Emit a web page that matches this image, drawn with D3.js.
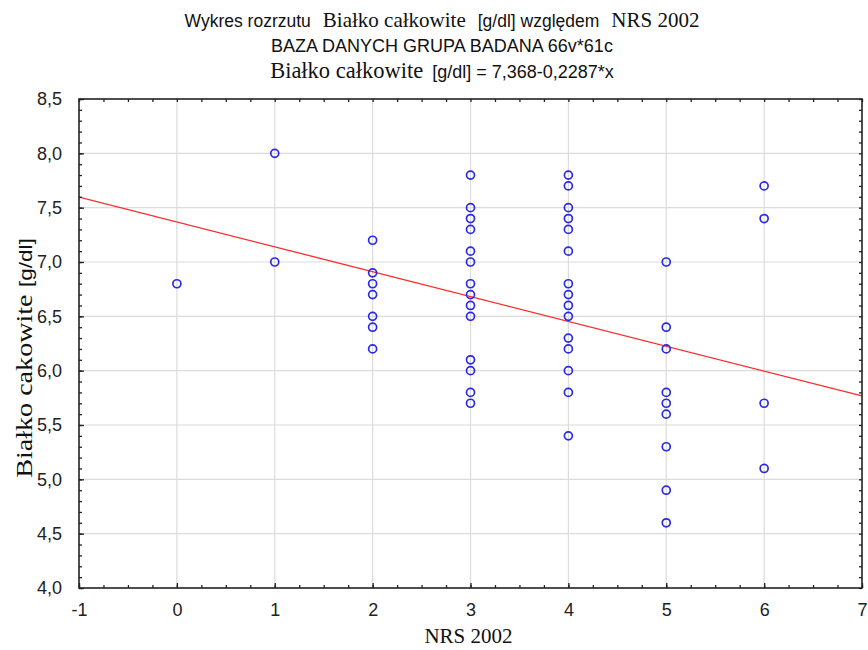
<!DOCTYPE html>
<html>
<head>
<meta charset="utf-8">
<script src="https://cdn.jsdelivr.net/npm/d3@7"></script>
<style>
  html, body { margin: 0; padding: 0; background: #fff; }
  svg { display: block; }
</style>
</head>
<body>
<script>
// NRS 2002 score vs total protein (g/dl), one entry per observation
const nrsScores = [
  0,
  1, 1,
  2, 2, 2, 2, 2, 2, 2,
  3, 3, 3, 3, 3, 3, 3, 3, 3, 3, 3, 3, 3, 3,
  4, 4, 4, 4, 4, 4, 4, 4, 4, 4, 4, 4, 4, 4, 4,
  5, 5, 5, 5, 5, 5, 5, 5, 5,
  6, 6, 6, 6
];
const proteinValues = [
  6.8,
  8.0, 7.0,
  7.2, 6.9, 6.8, 6.7, 6.5, 6.4, 6.2,
  7.8, 7.5, 7.4, 7.3, 7.1, 7.0, 6.8, 6.7, 6.6, 6.5, 6.1, 6.0, 5.8, 5.7,
  7.8, 7.7, 7.5, 7.4, 7.3, 7.1, 6.8, 6.7, 6.6, 6.5, 6.3, 6.2, 6.0, 5.8, 5.4,
  7.0, 6.4, 6.2, 5.8, 5.7, 5.6, 5.3, 4.9, 4.6,
  7.7, 7.4, 5.7, 5.1
];

// Fitted regression: protein = a + b * NRS
const fitIntercept = 7.368;
const fitSlope = -0.2287;

const xDomain = [-1, 7];
const yDomain = [4.0, 8.5];
const xTickValues = [-1, 0, 1, 2, 3, 4, 5, 6, 7];
const yTickValues = [4.0, 4.5, 5.0, 5.5, 6.0, 6.5, 7.0, 7.5, 8.0, 8.5];

// Title lines, split into runs that use different typefaces
const SERIF = "'Liberation Serif', 'Times New Roman', serif";
const SANS = "'Liberation Sans', Arial, sans-serif";
const titleLines = [
  [
    { text: "Wykres rozrzutu", font: "sans" },
    { text: "Białko całkowite", font: "serif" },
    { text: "[g/dl] względem", font: "sans" },
    { text: "NRS 2002", font: "serif" }
  ],
  [
    { text: "BAZA DANYCH GRUPA BADANA 66v*61c", font: "sans" }
  ],
  [
    { text: "Białko całkowite", font: "serif" },
    { text: "[g/dl] = 7,368-0,2287*x", font: "sans" }
  ]
];
const yLabelRuns = [
  { text: "Białko cakowite", font: "serif" },
  { text: "[g/dl]", font: "sans" }
];
const xLabel = "NRS 2002";

const W = 868, H = 650;
const margin = { left: 79, right: 6, top: 99, bottom: 62 };
const plotW = W - margin.left - margin.right;
const plotH = H - margin.top - margin.bottom;

const svg = d3.select("body").append("svg")
  .attr("width", W).attr("height", H);

const x = d3.scaleLinear().domain(xDomain).range([0, plotW]);
const y = d3.scaleLinear().domain(yDomain).range([plotH, 0]);

const g = svg.append("g")
  .attr("transform", `translate(${margin.left},${margin.top})`);

// Grid
g.append("g").selectAll("line.vg")
  .data(xTickValues.slice(1, -1)).join("line")
  .attr("x1", d => x(d)).attr("x2", d => x(d))
  .attr("y1", 0).attr("y2", plotH)
  .attr("stroke", "#dcdcdc").attr("stroke-width", 1.2);
g.append("g").selectAll("line.hg")
  .data(yTickValues.slice(1, -1)).join("line")
  .attr("x1", 0).attr("x2", plotW)
  .attr("y1", d => y(d)).attr("y2", d => y(d))
  .attr("stroke", "#dcdcdc").attr("stroke-width", 1.2);

// Regression line, clipped to the frame
svg.append("clipPath").attr("id", "plotClip")
  .append("rect").attr("width", plotW).attr("height", plotH);
g.append("line")
  .attr("clip-path", "url(#plotClip)")
  .attr("x1", x(xDomain[0])).attr("y1", y(fitIntercept + fitSlope * xDomain[0]))
  .attr("x2", x(xDomain[1])).attr("y2", y(fitIntercept + fitSlope * xDomain[1]))
  .attr("stroke", "#ff2a2a").attr("stroke-width", 1.3);

// Points
g.append("g").selectAll("circle")
  .data(nrsScores.map((s, i) => [s, proteinValues[i]])).join("circle")
  .attr("cx", d => x(d[0])).attr("cy", d => y(d[1]))
  .attr("r", 4)
  .attr("fill", "none")
  .attr("stroke", "#2a2ae6")
  .attr("stroke-width", 1.7);

// Axes: inward ticks on all four sides, minor ticks between majors
const xMinor = d3.range(-1, 7.001, 0.25);
const yMinor = d3.range(40, 85.001, 1).map(v => v / 10);
const fmtY = d => d3.format(".1f")(d).replace(".", ",");
const fmtX = d => String(d);

function styleAxis(sel) {
  sel.select(".domain").remove();
  sel.selectAll(".tick line").attr("stroke", "#222").attr("stroke-width", 1.3);
  sel.selectAll(".tick text").attr("fill", "#222")
    .style("font-family", SANS).style("font-size", "18px");
}

// minor ticks
g.append("g").attr("transform", `translate(0,${plotH})`)
  .call(d3.axisBottom(x).tickValues(xMinor).tickSize(-3).tickFormat(""))
  .call(styleAxis);
g.append("g")
  .call(d3.axisTop(x).tickValues(xMinor).tickSize(-3).tickFormat(""))
  .call(styleAxis);
g.append("g")
  .call(d3.axisLeft(y).tickValues(yMinor).tickSize(-3).tickFormat(""))
  .call(styleAxis);
g.append("g").attr("transform", `translate(${plotW},0)`)
  .call(d3.axisRight(y).tickValues(yMinor).tickSize(-3).tickFormat(""))
  .call(styleAxis);

// major ticks with labels
g.append("g").attr("transform", `translate(0,${plotH})`)
  .call(d3.axisBottom(x).tickValues(xTickValues).tickSizeInner(-5).tickSizeOuter(0)
    .tickPadding(15).tickFormat(fmtX))
  .call(styleAxis);
g.append("g")
  .call(d3.axisLeft(y).tickValues(yTickValues).tickSizeInner(-5).tickSizeOuter(0)
    .tickPadding(17).tickFormat(fmtY))
  .call(styleAxis);

// Frame
g.append("rect")
  .attr("width", plotW).attr("height", plotH)
  .attr("fill", "none").attr("stroke", "#222").attr("stroke-width", 1.6);

// Title
const FAMILY = { serif: SERIF, sans: SANS };
const titleBaselines = [27, 52, 78];
const titleSizes = [
  { serif: 21, sans: 17.5 },
  { serif: 21, sans: 18 },
  { serif: 22.5, sans: 18 }
];
const titleGaps = [12, 0, 9];
titleLines.forEach((runs, li) => {
  const t = svg.append("text")
    .attr("x", 442).attr("y", titleBaselines[li])
    .attr("text-anchor", "middle")
    .attr("fill", "#111");
  runs.forEach((r, ri) => {
    t.append("tspan")
      .attr("dx", ri === 0 ? 0 : titleGaps[li])
      .style("font-family", FAMILY[r.font])
      .style("font-size", titleSizes[li][r.font] + "px")
      .text(r.text);
  });
});

// Y axis label (drawn slightly stretched along its length)
const yl = svg.append("text")
  .attr("transform", "translate(32,358) rotate(-90) scale(1.25,1)")
  .attr("text-anchor", "middle")
  .attr("fill", "#111");
yLabelRuns.forEach((r, ri) => {
  yl.append("tspan")
    .attr("dx", ri === 0 ? 0 : 6)
    .style("font-family", FAMILY[r.font])
    .style("font-size", r.font === "serif" ? "22.5px" : "18px")
    .text(r.text);
});

// X axis label
svg.append("text")
  .attr("x", margin.left + plotW / 2 - 2).attr("y", 643)
  .attr("text-anchor", "middle")
  .attr("fill", "#111")
  .style("font-family", SERIF).style("font-size", "21px")
  .text(xLabel);
</script>
</body>
</html>
